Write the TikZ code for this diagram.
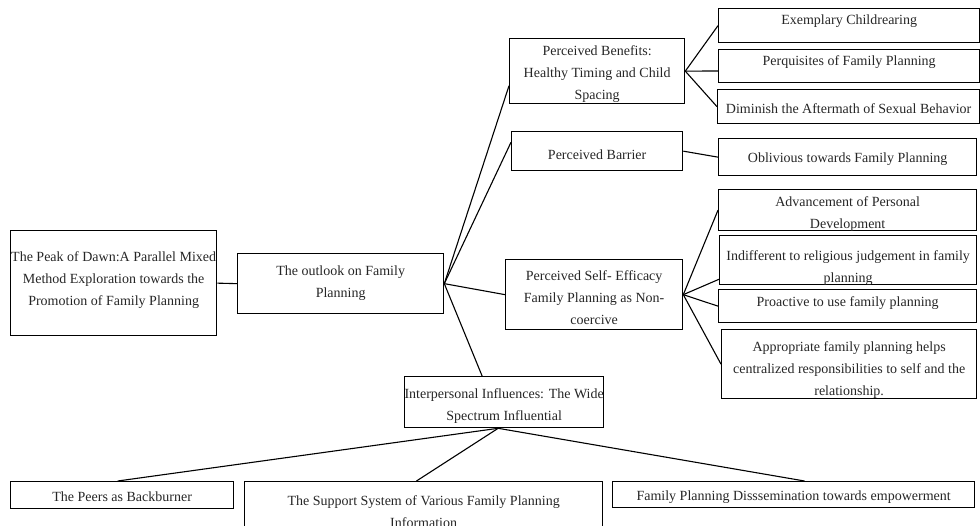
\documentclass[tikz,border=0pt]{standalone}
\usepackage{fontspec}
\setmainfont{Liberation Serif}
\usetikzlibrary{calc}
\begin{document}
\begin{tikzpicture}[x=1pt,y=-1pt,
  box/.style={draw=black, line width=1.3pt, rectangle, anchor=north west, inner sep=0pt},
  txt/.style={font=\fontsize{14}{22}\selectfont, align=center, inner sep=0pt, text=black!85},
  link/.style={draw=black, line width=1.1pt}]
\useasboundingbox (0,0) rectangle (980,525);
\newcommand\bx[7]{\node[box, minimum width=#4, minimum height=#5, label={[txt,yshift=#6-1.5]center:#7}] (#1) at (#2,#3) {};}
% boxes
\bx{root}{10}{230}{206}{105}{4.5}{The Peak of Dawn:A Parallel Mixed\\Method Exploration towards the\\Promotion of Family Planning}
\bx{outlook}{237}{253}{206}{60}{2}{The outlook on Family\\Planning}
\bx{benefits}{509}{38}{175}{65}{-1}{Perceived Benefits:\\Healthy Timing and Child\\Spacing}
\bx{barrier}{511}{131}{171}{39}{-2.5}{Perceived Barrier}
\bx{self}{505}{259}{177}{70}{-1.7}{Perceived Self- Efficacy\\Family Planning as Non-\\coercive}
\bx{inter}{404}{376}{199}{51}{-2.5}{Interpersonal Influences: The Wide\\Spectrum Influential}
\bx{exemp}{718}{8}{261}{34}{6}{Exemplary Childrearing}
\bx{perq}{718}{49}{261}{33}{5.5}{Perquisites of Family Planning}
\bx{dimin}{717}{89}{262}{34}{0}{Diminish the Aftermath of Sexual Behavior}
\bx{obliv}{718}{138}{258}{37}{-0.5}{Oblivious towards Family Planning}
\bx{advance}{718}{189}{258}{41}{-2}{Advancement of Personal\\Development}
\bx{indiff}{719}{235}{257}{49}{-6}{Indifferent to religious judgement in family\\planning}
\bx{proact}{718}{289}{258}{33}{4.5}{Proactive to use family planning}
\bx{approp}{721}{329}{255}{69}{-4}{Appropriate family planning helps\\centralized responsibilities to self and the\\relationship.}
\bx{peers}{10}{481}{223}{27}{0}{The Peers as Backburner}
\bx{support}{244}{481}{358}{60}{2}{The Support System of Various Family Planning\\Information}
\bx{dissem}{612}{481}{362}{26}{-1}{Family Planning Disssemination towards empowerment}
% connectors
\draw[link] (root.east) -- (outlook.west);
\draw[link] (outlook.east) -- ($(benefits.south west)!0.28!(benefits.north west)$);
\draw[link] (outlook.east) -- ($(barrier.north west)!0.28!(barrier.south west)$);
\draw[link] (outlook.east) -- (self.west);
\draw[link] (outlook.east) -- ($(inter.north west)!0.39!(inter.north east)$);
\draw[link] (benefits.east) -- (exemp.west);
\draw[link] (benefits.east) -- ($(perq.north west)!0.64!(perq.south west)$);
\draw[link] (benefits.east) -- (dimin.west);
\draw[link] (barrier.east) -- (obliv.west);
\draw[link] (self.east) -- (advance.west);
\draw[link] (self.east) -- ($(indiff.north west)!0.88!(indiff.south west)$);
\draw[link] (self.east) -- (proact.west);
\draw[link] (self.east) -- (approp.west);
\coordinate (ihub) at ($(inter.south west)!0.47!(inter.south east)$);
\draw[link] (ihub) -- ($(peers.north west)!0.48!(peers.north east)$);
\draw[link] (ihub) -- ($(support.north west)!0.48!(support.north east)$);
\draw[link] (ihub) -- ($(dissem.north west)!0.53!(dissem.north east)$);
\end{tikzpicture}
\end{document}
